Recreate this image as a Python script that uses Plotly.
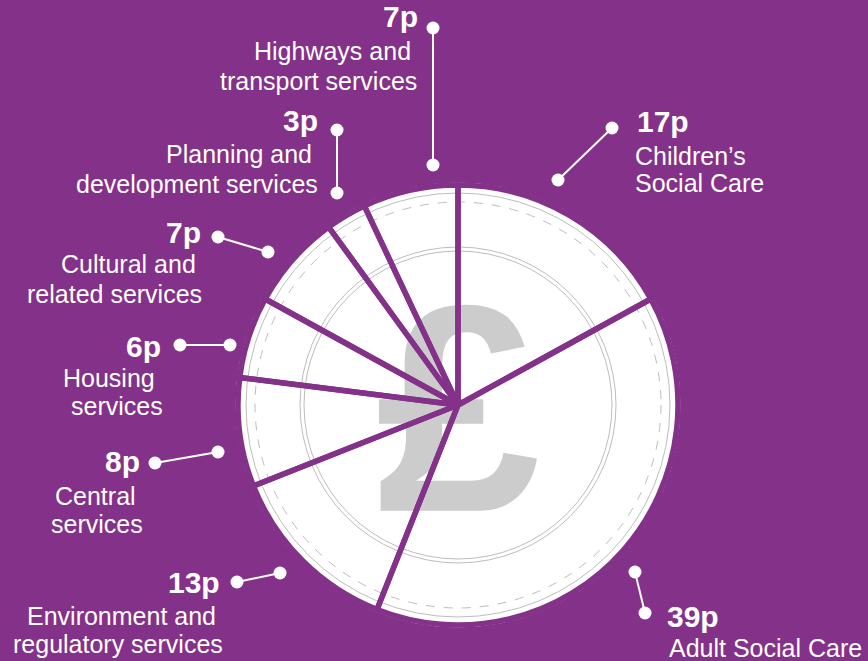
import plotly.graph_objects as go

# ---------------- data ----------------
categories = [
    "Children’s<br>Social Care",
    "Adult Social Care",
    "Environment and<br>regulatory services",
    "Central<br>services",
    "Housing<br>services",
    "Cultural and<br>related services",
    "Planning and<br>development services",
    "Highways and<br>transport services",
]
values = [17, 39, 13, 8, 6, 7, 3, 7]          # pence in every £1
value_labels = [f"{v}p" for v in values]

# ---------------- style / layout ----------------
W, H = 868, 661
PURPLE = "#843189"
WHITE = "#FFFFFF"
CX, CY, R = 458, 405, 220                       # coin centre/radius in px
FONT = "Liberation Sans, Arial, sans-serif"
VAL_SIZE = 30
CAT_SIZE = 25

# label layout (pixel positions of callouts): value (x, baseline, anchor),
# category line positions (x, baseline, anchor), connector end points
label_layout = [
    dict(val=(635, 132, "left"), lines=[(633, 165, "left"), (633, 192, "left")], conn=[(558, 180), (612, 128)]),
    dict(val=(665, 627, "left"), lines=[(667, 657, "left")], conn=[(635, 572), (645, 613)]),
    dict(val=(222, 593, "right"), lines=[(121, 625, "center"), (118, 653, "center")], conn=[(280, 573), (237, 582)]),
    dict(val=(142, 472, "right"), lines=[(95, 505, "center"), (97, 533, "center")], conn=[(218, 452), (155, 463)]),
    dict(val=(163, 357, "right"), lines=[(109, 387, "center"), (117, 415, "center")], conn=[(230, 345), (180, 345)]),
    dict(val=(203, 243, "right"), lines=[(128, 273, "center"), (114, 303, "center")], conn=[(268, 252), (218, 237)]),
    dict(val=(320, 131, "right"), lines=[(239, 163, "center"), (197, 193, "center")], conn=[(337, 193), (337, 130)]),
    dict(val=(420, 27, "right"), lines=[(332, 60, "center"), (318, 90, "center")], conn=[(433, 165), (433, 28)]),
]

fig = go.Figure()

# coin decoration (below everything)
shapes = [
    dict(type="circle", xref="x", yref="y", x0=CX - R - 2, x1=CX + R + 2, y0=CY - R - 2, y1=CY + R + 2,
         fillcolor=WHITE, line=dict(color="#D8D8D8", width=1), layer="below"),
    dict(type="circle", xref="x", yref="y", x0=CX - R + 8, x1=CX + R - 8, y0=CY - R + 8, y1=CY + R - 8,
         fillcolor="rgba(0,0,0,0)", line=dict(color="#BDBDBD", width=1), layer="below"),
    dict(type="circle", xref="x", yref="y", x0=CX - R + 17, x1=CX + R - 17, y0=CY - R + 17, y1=CY + R - 17,
         fillcolor="rgba(0,0,0,0)", line=dict(color="#BDBDBD", width=1, dash="dash"), layer="below"),
    dict(type="circle", xref="x", yref="y", x0=CX - 158, x1=CX + 158, y0=CY - 158, y1=CY + 158,
         fillcolor="rgba(0,0,0,0)", line=dict(color="#BDBDBD", width=1), layer="below"),
    dict(type="circle", xref="x", yref="y", x0=CX - 154, x1=CX + 154, y0=CY - 154, y1=CY + 154,
         fillcolor="rgba(0,0,0,0)", line=dict(color="#BDBDBD", width=1), layer="below"),
]

# pound sign
fig.add_trace(go.Scatter(
    x=[CX], y=[CY + 32], mode="text", text=["£"],
    textfont=dict(family=FONT, size=295, color="#CCCCCC", weight="bold"),
    textposition="middle center", hoverinfo="skip", showlegend=False,
))

# connectors
cx_pts, cy_pts = [], []
for lay in label_layout:
    for (px, py) in lay["conn"]:
        cx_pts.append(px)
        cy_pts.append(py)
    cx_pts.append(None)
    cy_pts.append(None)
fig.add_trace(go.Scatter(
    x=cx_pts, y=cy_pts, mode="lines+markers",
    line=dict(color=WHITE, width=2), marker=dict(color=WHITE, size=13),
    hoverinfo="skip", showlegend=False,
))

# the pie (slice separators)
fig.add_trace(go.Pie(
    labels=[c.replace("<br>", " ") for c in categories], values=values,
    sort=False, direction="clockwise", rotation=0,
    marker=dict(colors=["rgba(0,0,0,0)"] * len(values), line=dict(color=PURPLE, width=5.5)),
    textinfo="none", hoverinfo="skip", showlegend=False,
    domain=dict(x=[(CX - R) / W, (CX + R) / W], y=[1 - (CY + R) / H, 1 - (CY - R) / H]),
))

annotations = []
for lab, cat, lay in zip(value_labels, categories, label_layout):
    vx, vy, va = lay["val"]
    annotations.append(dict(
        x=vx, y=vy - 0.35 * VAL_SIZE, xref="x", yref="y", text=f"<b>{lab}</b>",
        showarrow=False, xanchor=va, yanchor="middle",
        font=dict(family=FONT, size=VAL_SIZE, color=WHITE),
    ))
    for line_txt, (lx, ly, la) in zip(cat.split("<br>"), lay["lines"]):
        annotations.append(dict(
            x=lx, y=ly - 0.35 * CAT_SIZE, xref="x", yref="y", text=line_txt,
            showarrow=False, xanchor=la, yanchor="middle",
            font=dict(family=FONT, size=CAT_SIZE, color=WHITE),
        ))

fig.update_layout(
    width=W, height=H, margin=dict(l=0, r=0, t=0, b=0),
    paper_bgcolor=PURPLE, plot_bgcolor=PURPLE,
    xaxis=dict(range=[0, W], visible=False, fixedrange=True),
    yaxis=dict(range=[H, 0], visible=False, fixedrange=True),
    shapes=shapes, annotations=annotations, showlegend=False,
)

fig.write_html("out.html")
